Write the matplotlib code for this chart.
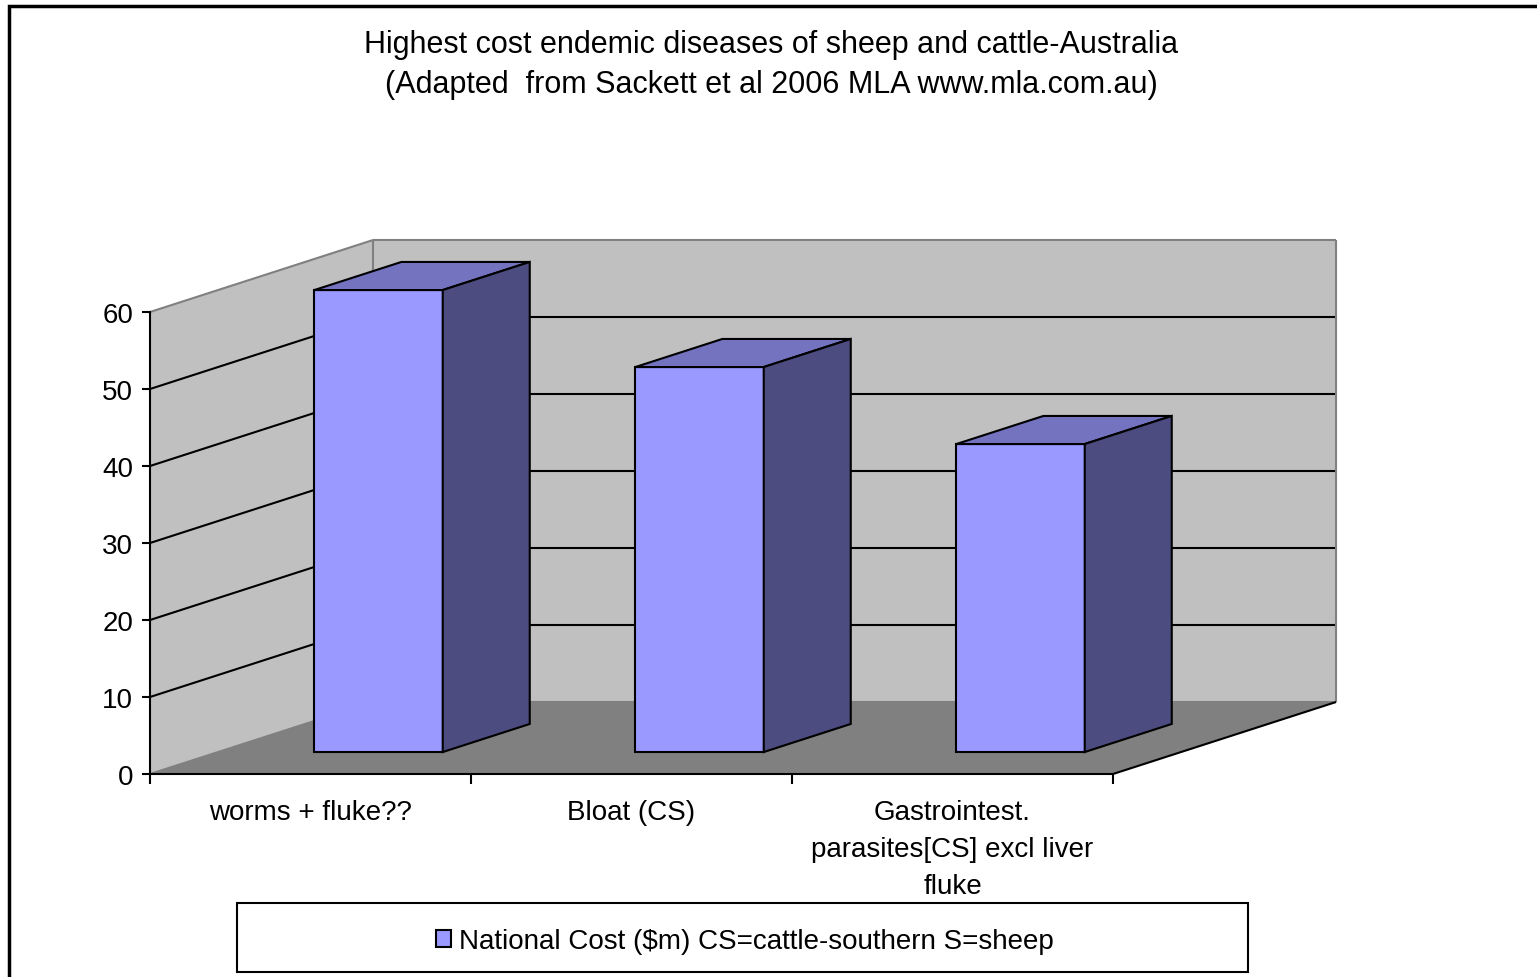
import matplotlib
matplotlib.use("Agg")
import matplotlib.pyplot as plt
from matplotlib.patches import Polygon, Rectangle, Patch

plt.rcParams['font.family'] = ['Liberation Sans', 'DejaVu Sans']

# ---- data ----
title_lines = ["Highest cost endemic diseases of sheep and cattle-Australia",
               "(Adapted  from Sackett et al 2006 MLA www.mla.com.au)"]
categories = ["worms + fluke??", "Bloat (CS)",
              "Gastrointest.\nparasites[CS] excl liver\nfluke"]
national_cost = [60, 50, 40]
series_label = "National Cost ($m) CS=cattle-southern S=sheep"
y_ticks = [0, 10, 20, 30, 40, 50, 60]

# ---- styling ----
FRONT = "#9999FF"
TOP = "#7373BF"
SIDE = "#4C4C80"
WALL = "#C0C0C0"
FLOOR = "#808080"
EDGE_GREY = "#808080"
FS = 20

W, H = 1537, 978
fig = plt.figure(figsize=(W / 100, H / 100), dpi=100)
fig.patch.set_facecolor("white")

# the axes is the front plane of the 3-D box
ax = fig.add_axes([150 / W, 1 - 775 / H, 963 / W, 462 / H])
n = len(categories)
ymax = y_ticks[-1]
ax.set_xlim(0, n)
ax.set_ylim(0, ymax)
ax.patch.set_visible(False)

# oblique projection: full depth moves a point by (DX, DY) in data units
DX = 0.695
DY = 9.35


def proj(x, y, d):
    return (x + d * DX, y + d * DY)


def poly(pts, fc, ec="none", lw=0, z=1):
    p = Polygon(pts, closed=True, facecolor=fc, edgecolor=ec, linewidth=lw,
                joinstyle="miter", clip_on=False, zorder=z)
    ax.add_patch(p)


def seg(a, b, color, lw=1.5, z=1.5):
    ax.plot([a[0], b[0]], [a[1], b[1]], color=color, lw=lw,
            solid_capstyle="butt", clip_on=False, zorder=z)


# walls and floor
poly([proj(0, 0, 0), proj(0, ymax, 0), proj(0, ymax, 1), proj(0, 0, 1)], WALL)
poly([proj(0, 0, 1), proj(n, 0, 1), proj(n, ymax, 1), proj(0, ymax, 1)], WALL)
poly([proj(0, 0, 0), proj(n, 0, 0), proj(n, 0, 1), proj(0, 0, 1)], FLOOR)

# gridlines on side wall and back wall
for v in y_ticks[1:-1]:
    seg(proj(0, v, 0), proj(0, v, 1), "black")
    seg(proj(0, v, 1), proj(n, v, 1), "black")

# wall outlines
seg(proj(0, ymax, 0), proj(0, ymax, 1), EDGE_GREY, 1.5)
seg(proj(0, ymax, 1), proj(n, ymax, 1), EDGE_GREY, 1.5)
seg(proj(n, ymax, 1), proj(n, 0, 1), EDGE_GREY, 1.5)
seg(proj(0, 0, 1), proj(0, ymax, 1), EDGE_GREY, 1.5)
seg(proj(0, 0, 0), proj(0, 0, 1), EDGE_GREY, 1.5)
seg(proj(0, 0, 1), proj(n, 0, 1), EDGE_GREY, 1.5)
seg(proj(n, 0, 0), proj(n, 0, 1), "black", 1.5)

# 3-D columns
bar_w = 0.4
d0, d1 = 0.305, 0.695
for i, v in enumerate(national_cost):
    x0 = i + 0.5 - bar_w / 2
    x1 = i + 0.5 + bar_w / 2
    poly([proj(x0, 0, d0), proj(x1, 0, d0), proj(x1, v, d0), proj(x0, v, d0)],
         FRONT, "black", 1.5, 3)
    poly([proj(x0, v, d0), proj(x1, v, d0), proj(x1, v, d1), proj(x0, v, d1)],
         TOP, "black", 1.5, 3)
    poly([proj(x1, 0, d0), proj(x1, 0, d1), proj(x1, v, d1), proj(x1, v, d0)],
         SIDE, "black", 1.5, 3)

# axes
for s in ("top", "right"):
    ax.spines[s].set_visible(False)
for s in ("left", "bottom"):
    ax.spines[s].set_color("black")
    ax.spines[s].set_linewidth(1.5)

ax.set_yticks(y_ticks)
ax.tick_params(axis="y", length=6, width=1.5, direction="out", pad=6,
               labelsize=FS)
ax.set_xticks(range(n + 1))
ax.set_xticklabels([])
ax.tick_params(axis="x", which="major", length=7, width=1.5, direction="out")
ax.set_xticks([i + 0.5 for i in range(n)], minor=True)
ax.set_xticklabels(categories, minor=True, fontsize=FS, linespacing=1.55)
ax.tick_params(axis="x", which="minor", length=0, pad=18)

# title
fig.text(771 / W, 1 - 65 / H, "\n".join(title_lines), ha="center",
         va="center", fontsize=22, linespacing=1.42)

# legend
fig.legend(handles=[Patch(facecolor=FRONT, edgecolor="black", linewidth=1.5,
                          label=series_label)],
           loc="center", bbox_to_anchor=(745 / W, 1 - 942 / H), frameon=False,
           fontsize=FS, handlelength=0.55, handleheight=0.55,
           handletextpad=0.3)
fig.add_artist(Rectangle((237 / W, 1 - 973 / H), 1011 / W, 69 / H,
                         transform=fig.transFigure, fill=False,
                         edgecolor="black", linewidth=1.5))

# chart frame
fig.add_artist(Rectangle((8.5 / W, -0.05), 1.2, 1 - 6.5 / H + 0.05,
                         transform=fig.transFigure, fill=False,
                         edgecolor="black", linewidth=2.5))

fig.savefig("out.png", dpi=100)
